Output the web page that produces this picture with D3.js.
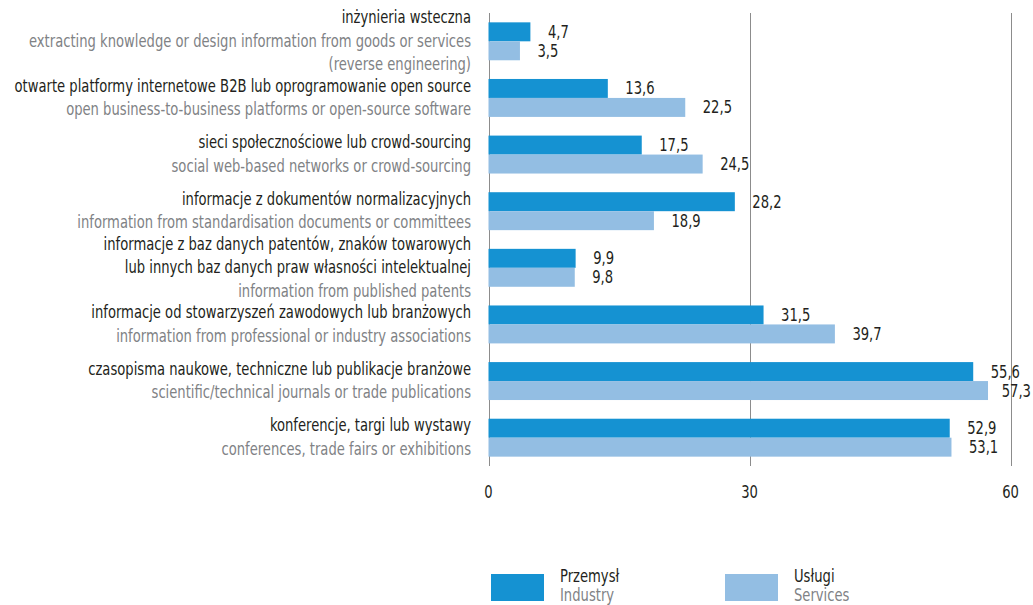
<!DOCTYPE html>
<html>
<head>
<meta charset="utf-8">
<script src="https://cdn.jsdelivr.net/npm/d3@7/dist/d3.min.js"></script>
<style>
  html, body { margin: 0; padding: 0; background: #fff; }
  svg { display: block; }
  text { font-family: "Liberation Sans Narrow", "DejaVu Sans Condensed", "Arial Narrow", sans-serif; }
</style>
</head>
<body>
<svg id="chart" width="1033" height="605"></svg>
<script>
// Sources of knowledge used for innovation, % of enterprises (top to bottom)
const labelsPl = [
  ["inżynieria wsteczna"],
  ["otwarte platformy internetowe B2B lub oprogramowanie open source"],
  ["sieci społecznościowe lub crowd-sourcing"],
  ["informacje z dokumentów normalizacyjnych"],
  ["informacje z baz danych patentów, znaków towarowych", "lub innych baz danych praw własności intelektualnej"],
  ["informacje od stowarzyszeń zawodowych lub branżowych"],
  ["czasopisma naukowe, techniczne lub publikacje branżowe"],
  ["konferencje, targi lub wystawy"]
];
const labelsEn = [
  ["extracting knowledge or design information from goods or services", "(reverse engineering)"],
  ["open business-to-business platforms or open-source software"],
  ["social web-based networks or crowd-sourcing"],
  ["information from standardisation documents or committees"],
  ["information from published patents"],
  ["information from professional or industry associations"],
  ["scientific/technical journals or trade publications"],
  ["conferences, trade fairs or exhibitions"]
];
const industry = [4.7, 13.6, 17.5, 28.2, 9.9, 31.5, 55.6, 52.9];
const services = [3.5, 22.5, 24.5, 18.9, 9.8, 39.7, 57.3, 53.1];
const seriesPl = ["Przemysł", "Usługi"];
const seriesEn = ["Industry", "Services"];
const xTicks = [0, 30, 60];

const W = 1033, H = 605;
const colors = ["#1592d2", "#93bee3"];
const darkText = "#231f20", greyText = "#808285", gridColor = "#8c8c8c";
const FS = 17;      // font size
const SX = 0.86;    // horizontal squeeze for a condensed look

const svg = d3.select("#chart");

// place a text at (px, py), squeezed horizontally around its anchor
function placeText(sel, px, py) {
  sel.attr("transform", function (d, i) {
    const X = typeof px === "function" ? px.call(this, d, i) : px;
    const Y = typeof py === "function" ? py.call(this, d, i) : py;
    return `translate(${X},${Y}) scale(${SX},1)`;
  });
}

const x = d3.scaleLinear().domain([0, 60]).range([488.5, 1010.5]);
const y = d3.scaleBand().domain(d3.range(labelsPl.length)).range([13, 466])
  .paddingInner(0.33).paddingOuter(0.165);
const ySub = d3.scaleBand().domain([0, 1]).range([0, y.bandwidth()]);

const rows = labelsPl.map((pl, i) => ({ i, pl, en: labelsEn[i], vals: [industry[i], services[i]] }));

// vertical grid lines and the zero axis
svg.append("g").selectAll("line").data(xTicks).join("line")
  .attr("x1", d => Math.round(x(d)) + 0.5).attr("x2", d => Math.round(x(d)) + 0.5)
  .attr("y1", 13).attr("y2", 466)
  .attr("stroke", gridColor).attr("stroke-width", 1);

// tick labels
svg.append("g").selectAll("text").data(xTicks).join("text")
  .attr("text-anchor", "middle").attr("font-size", FS).attr("fill", darkText)
  .text(d => d)
  .call(placeText, d => x(d), 498);

// bars
const groups = svg.append("g").selectAll("g").data(rows).join("g")
  .attr("transform", d => `translate(0,${y(d.i)})`);

groups.selectAll("rect").data(d => d.vals).join("rect")
  .attr("x", x(0))
  .attr("y", (v, j) => ySub(j))
  .attr("width", v => x(v) - x(0) + 1)
  .attr("height", ySub.bandwidth())
  .attr("fill", (v, j) => colors[j]);

// value labels
const fmt = v => d3.format(".1f")(v).replace(".", ",");
groups.selectAll("text.val").data(d => d.vals).join("text")
  .attr("class", "val")
  .attr("font-size", FS).attr("fill", darkText)
  .text(fmt)
  .call(placeText, function (v) {
    const w = this.getComputedTextLength() * SX;
    return Math.min(x(v) + 18.5, W - 2 - w);
  }, (v, j) => ySub(j) + ySub.bandwidth() / 2 + 6);

// category labels: Polish lines (dark) followed by English lines (grey)
const lineH = 23.5;
rows.forEach(r => {
  const lines = r.pl.map(t => ({ t, c: darkText })).concat(r.en.map(t => ({ t, c: greyText })));
  const cy = y(r.i) + y.bandwidth() / 2;
  const first = cy - (lines.length - 1) * lineH / 2 + 5.5;
  svg.append("g").selectAll("text").data(lines).join("text")
    .attr("text-anchor", "end").attr("font-size", FS)
    .attr("fill", d => d.c)
    .text(d => d.t)
    .call(placeText, 471, (d, k) => first + k * lineH);
});

// legend
const legendX = [491, 725];
const legend = svg.append("g").selectAll("g").data(seriesPl).join("g")
  .attr("transform", (d, j) => `translate(${legendX[j]},574)`);
legend.append("rect").attr("width", 53).attr("height", 27).attr("fill", (d, j) => colors[j]);
legend.append("text").attr("font-size", FS).attr("fill", darkText).text(d => d)
  .call(placeText, 69, 8);
legend.append("text").attr("font-size", FS).attr("fill", greyText)
  .text((d, j) => seriesEn[j])
  .call(placeText, 69, 26.5);
</script>
</body>
</html>
